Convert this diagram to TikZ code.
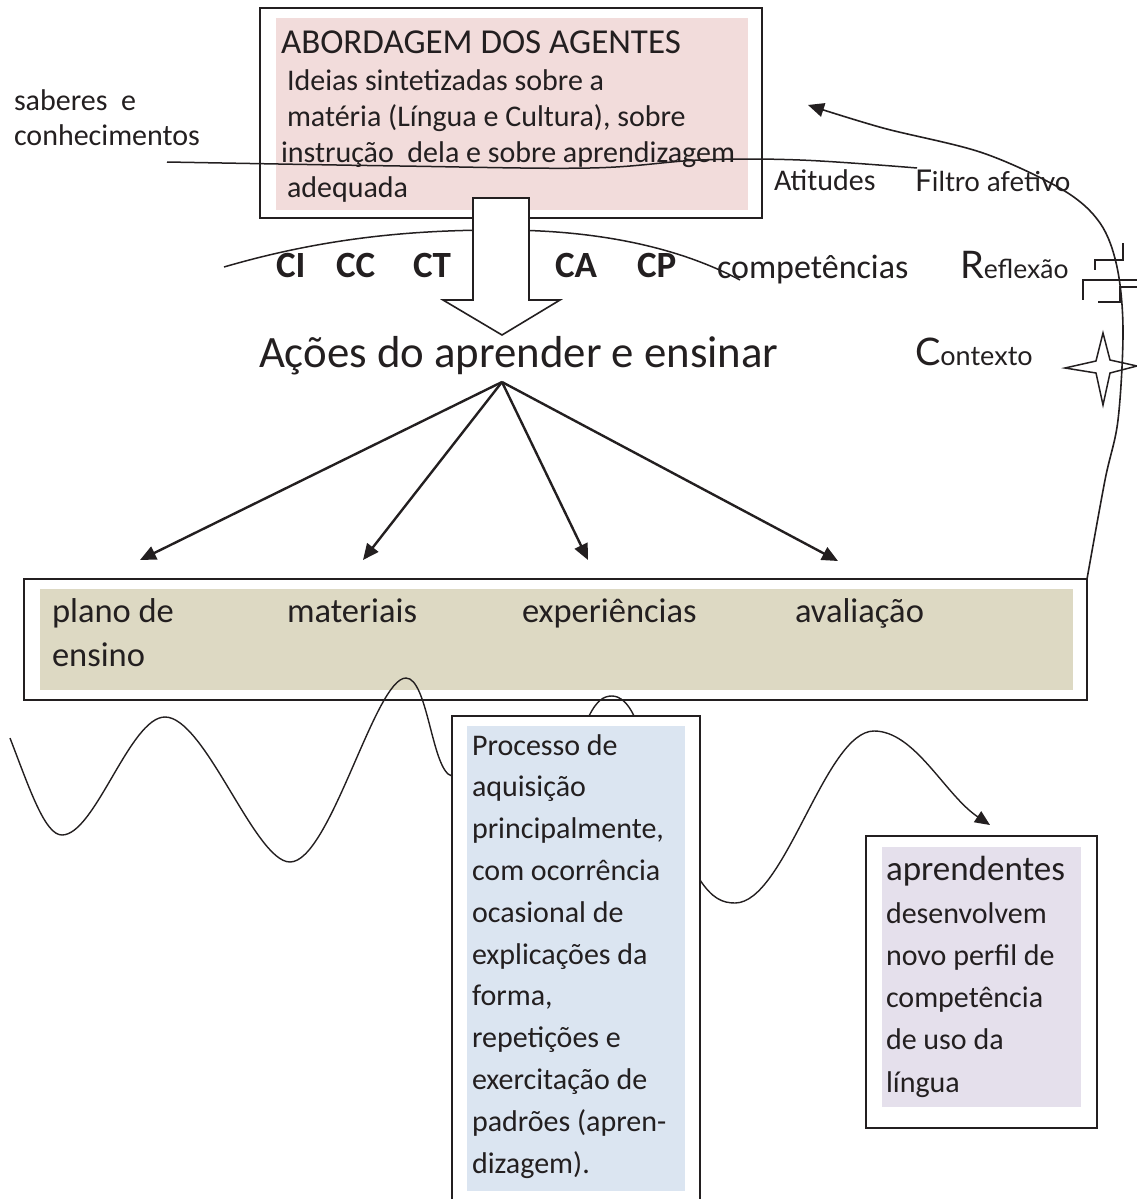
\documentclass[tikz,border=0pt]{standalone}
\usepackage{fontspec}
\setmainfont{Carlito}
\newfontfamily\gillf{Lato}
\usetikzlibrary{arrows.meta}
\definecolor{ink}{HTML}{231F20}
\definecolor{pinkf}{HTML}{F2DCDB}
\definecolor{tanf}{HTML}{DDD9C3}
\definecolor{bluef}{HTML}{DBE5F1}
\definecolor{lavf}{HTML}{E5E0EC}
\tikzset{
  lbl/.style={anchor=base west, inner sep=0pt, outer sep=0pt, text=ink},
  frame/.style={draw=ink, line width=1.8pt, fill=white, anchor=north west, inner sep=0pt, outer sep=0pt},
  panel/.style={anchor=north west, inner sep=0pt, outer sep=0pt, draw=none},
  conn/.style={draw=ink, line width=2.4pt, -{Triangle[length=16pt,width=14pt]}},
  thinline/.style={draw=ink, line width=1.5pt},
  fs/.style={font=\fontsize{#1}{#1}\selectfont},
  bfs/.style={font=\bfseries\fontsize{#1}{#1}\selectfont},
}
\begin{document}
\begin{tikzpicture}[x=1pt,y=-1pt]
\useasboundingbox (0,0) rectangle (1137,1199);

% ---- top box
\node[frame, minimum width=502pt, minimum height=210pt] (topbox) at (260,8) {};
\node[panel, fill=pinkf, minimum width=472pt, minimum height=192pt] (toppanel) at (276,18) {};

% ---- arc of competences
\draw[thinline] (224,267) .. controls (330,236) and (420,230) .. (501,230)
                .. controls (600,230) and (680,248) .. (740,280);

% ---- block arrow
\filldraw[draw=ink, fill=white, line width=1.6pt] (473,198) -- (473,300) -- (443,300) -- (502,335)
   -- (560,300) -- (529,300) -- (529,198) -- cycle;

% ---- top texts
\node[lbl, fs=35] (abord) at (281,53) {ABORDAGEM DOS AGENTES};
\node[lbl, fs=30] (l1) at (287,90) {Ideias sintetizadas sobre a};
\node[lbl, fs=30] (l2) at (287,126) {matéria (Língua e Cultura), sobre};
\node[lbl, fs=30] (l3) at (281,162) {instrução\ \ dela e sobre aprendizagem};
\node[lbl, fs=30] (l4) at (287,197) {adequada};

\node[lbl, fs=30] (sab1) at (14,110) {saberes\ \ e};
\node[lbl, fs=30] (sab2) at (14,145) {conhecimentos};
\node[lbl, fs=30] (atit) at (774,190) {Atitudes};
\node[lbl] (filtro) at (915,191) {\gillf\fontsize{30}{30}\selectfont F\fontsize{27.5}{27.5}\selectfont iltro afetivo};

% saberes line
\coordinate (sabstart) at (167,162);
\coordinate (sabend) at (917,168);
\draw[thinline] plot[smooth, tension=0.6] coordinates {(sabstart) (400,166) (590,168) (700,160) (800,160) (sabend)};

% ---- competences
\node[lbl, bfs=37] (ci) at (276,277) {CI};
\node[lbl, bfs=37] (cc) at (336,277) {CC};
\node[lbl, bfs=37] (ct) at (413,277) {CT};
\node[lbl, bfs=37] (ca) at (555,277) {CA};
\node[lbl, bfs=37] (cp) at (637,277) {CP};
\node[lbl, fs=34] (compet) at (717,278) {competências};
\node[lbl] (refl) at (960,278) {\gillf\fontsize{38}{38}\selectfont R\fontsize{26.5}{26.5}\selectfont eflexão};

\node[lbl, fs=44.8] (acoes) at (259,367) {Ações do aprender e ensinar};
\node[lbl] (contexto) at (915,365) {\gillf\fontsize{38}{38}\selectfont C\fontsize{27}{27}\selectfont ontexto};

% ---- bottom box
\node[frame, minimum width=1063pt, minimum height=121pt] (planbox) at (24,579) {};
\node[panel, fill=tanf, minimum width=1033pt, minimum height=101pt] (planpanel) at (40,589) {};
\node[lbl, fs=34.5] (plano) at (52,622) {plano de};
\node[lbl, fs=34.5] (ensino) at (52,666) {ensino};
\node[lbl, fs=34.5] (mat) at (287,622) {materiais};
\node[lbl, fs=34.5] (exp) at (522,622) {experiências};
\node[lbl, fs=34.5] (aval) at (795,622) {avaliação};

% ---- arrows from actions
\coordinate (hub) at (502,382);
\coordinate (t1) at (140,560);
\coordinate (t2) at (363,560);
\coordinate (t3) at (588,560);
\coordinate (t4) at (838,561);
\draw[conn] (hub) -- (t1);
\draw[conn] (hub) -- (t2);
\draw[conn] (hub) -- (t3);
\draw[conn] (hub) -- (t4);

% ---- wave
\coordinate (wavestart) at (10,738);
\coordinate (waveend) at (990,825);
\draw[thinline, line width=1.4pt, -{Triangle[length=15pt,width=13pt]}] (wavestart)
  .. controls (30,790) and (45,835) .. (62,835)
  .. controls (95,835) and (130,717) .. (165,717)
  .. controls (205,717) and (255,862) .. (290,862)
  .. controls (330,862) and (375,678) .. (406,678)
  .. controls (428,678) and (432,772) .. (452,776)
  .. controls (500,790) and (575,760) .. (589,716)
  .. controls (597,700) and (604,696) .. (612,696)
  .. controls (620,696) and (628,703) .. (634,716)
  .. controls (660,790) and (690,870) .. (700,880)
  .. controls (712,898) and (722,903) .. (735,903)
  .. controls (785,903) and (825,731) .. (874,731)
  .. controls (915,731) and (945,795) .. (waveend);

% ---- process box
\node[frame, minimum width=248pt, minimum height=485pt] (procbox) at (452,716) {};
\node[panel, fill=bluef, minimum width=218pt, minimum height=465pt] (procpanel) at (467,726) {};
\foreach \t [count=\i from 0] in {Processo de, aquisição, {principalmente,}, com ocorrência,
   ocasional de, explicações da, {forma,}, repetições e, exercitação de, padrões (apren-, dizagem).}
  \node[lbl, fs=30] (p\i) at (472,755+41.8*\i) {\t};

% ---- learners box
\node[frame, minimum width=231pt, minimum height=292pt] (aprbox) at (866,836) {};
\node[panel, fill=lavf, minimum width=199pt, minimum height=260pt] (aprpanel) at (882,847) {};
\node[lbl, fs=35] (a0) at (886,880) {aprendentes};
\foreach \t [count=\i from 1] in {desenvolvem, novo perfil de, competência, de uso da, língua}
  \node[lbl, fs=30] (a\i) at (886,881+42.2*\i) {\t};

% ---- reflection symbol
\draw[thinline] (1123,243) -- (1123,260) -- (1095,260) -- (1095,270);
\draw[thinline] (1137,280) -- (1083,280) -- (1083,300);
\draw[thinline] (1137,287) -- (1120,287) -- (1120,302) -- (1098,302);

% ---- star
\draw[thinline] (1103,333) -- (1110,360) -- (1137,366) -- (1110,373) -- (1103,405)
   -- (1096,373) -- (1065,368) -- (1096,361) -- cycle;

% ---- feedback arrow
\coordinate (fbend) at (808,105);
\draw[conn, line width=1.6pt] plot[smooth, tension=0.55] coordinates {(planbox.north east) (1105,480) (1118,420) (1123,330) (1117,267) (1100,223) (1063,190) (983,153) (883,128) (fbend)};
\end{tikzpicture}
\end{document}
